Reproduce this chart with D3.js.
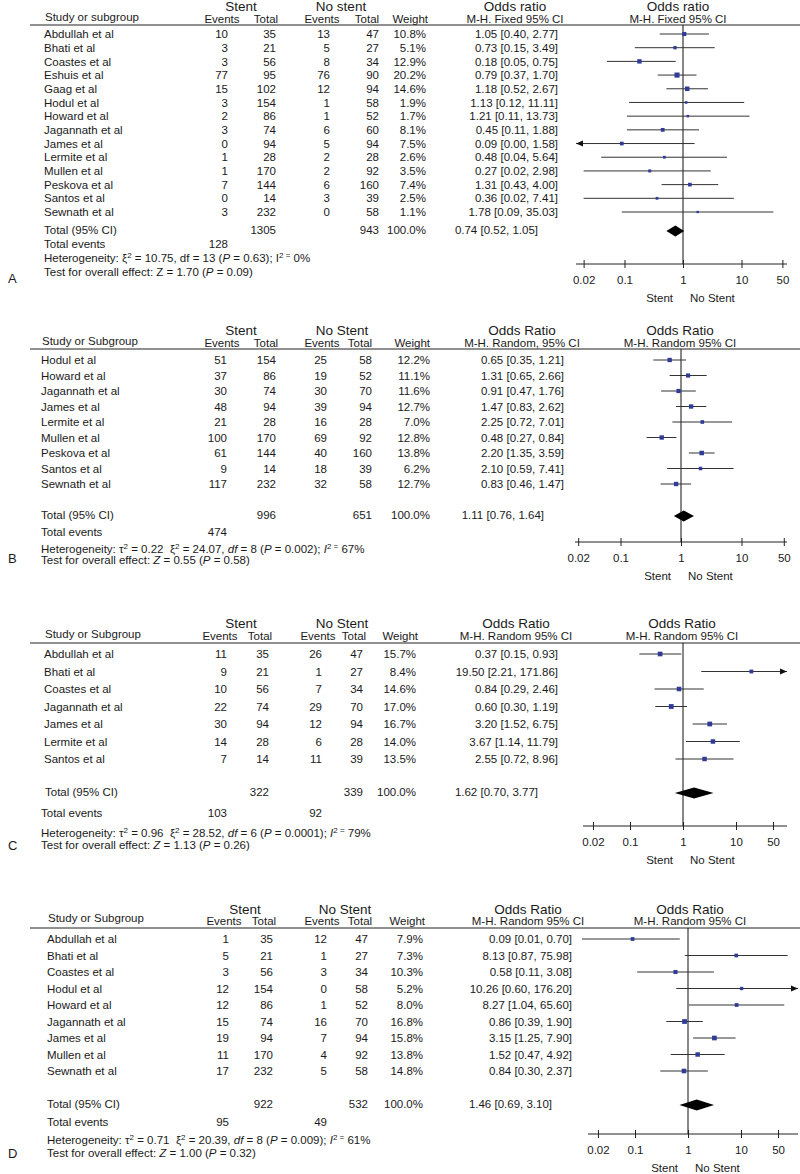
<!DOCTYPE html>
<html><head><meta charset="utf-8">
<script src="https://cdn.jsdelivr.net/npm/d3@7"></script>
<style>
body{margin:0;background:#fff}
svg{display:block}
text{font-family:"Liberation Sans",Arial,Helvetica,sans-serif;fill:#1a1a1a;white-space:pre}
</style>
</head><body>
<svg id="chart" width="800" height="1174"></svg>
<script>
// ---------- Panel A data ----------
const aStudies = ["Abdullah et al","Bhati et al","Coastes et al","Eshuis et al","Gaag et al","Hodul et al","Howard et al","Jagannath et al","James et al","Lermite et al","Mullen et al","Peskova et al","Santos et al","Sewnath et al"];
const aStentEvents = [10,3,3,77,15,3,2,3,0,1,1,7,0,3];
const aStentTotal  = [35,21,56,95,102,154,86,74,94,28,170,144,14,232];
const aNoEvents    = [13,5,8,76,12,1,1,6,5,2,2,6,3,0];
const aNoTotal     = [47,27,34,90,94,58,52,60,94,28,92,160,39,58];
const aWeight      = [10.8,5.1,12.9,20.2,14.6,1.9,1.7,8.1,7.5,2.6,3.5,7.4,2.5,1.1];
const aOR          = [1.05,0.73,0.18,0.79,1.18,1.13,1.21,0.45,0.09,0.48,0.27,1.31,0.36,1.78];
const aLo          = [0.40,0.15,0.05,0.37,0.52,0.12,0.11,0.11,0.00,0.04,0.02,0.43,0.02,0.09];
const aHi          = [2.77,3.49,0.75,1.70,2.67,11.11,13.73,1.88,1.58,5.64,2.98,4.00,7.41,35.03];
const aTotal = {stentTotal:1305, noTotal:943, weight:100.0, or:0.74, lo:0.52, hi:1.05, stentEvents:128, noEvents:null};

// ---------- Panel B data ----------
const bStudies = ["Hodul et al","Howard et al","Jagannath et al","James et al","Lermite et al","Mullen et al","Peskova et al","Santos et al","Sewnath et al"];
const bStentEvents = [51,37,30,48,21,100,61,9,117];
const bStentTotal  = [154,86,74,94,28,170,144,14,232];
const bNoEvents    = [25,19,30,39,16,69,40,18,32];
const bNoTotal     = [58,52,70,94,28,92,160,39,58];
const bWeight      = [12.2,11.1,11.6,12.7,7.0,12.8,13.8,6.2,12.7];
const bOR          = [0.65,1.31,0.91,1.47,2.25,0.48,2.20,2.10,0.83];
const bLo          = [0.35,0.65,0.47,0.83,0.72,0.27,1.35,0.59,0.46];
const bHi          = [1.21,2.66,1.76,2.62,7.01,0.84,3.59,7.41,1.47];
const bTotal = {stentTotal:996, noTotal:651, weight:100.0, or:1.11, lo:0.76, hi:1.64, stentEvents:474, noEvents:null};

// ---------- Panel C data ----------
const cStudies = ["Abdullah et al","Bhati et al","Coastes et al","Jagannath et al","James et al","Lermite et al","Santos et al"];
const cStentEvents = [11,9,10,22,30,14,7];
const cStentTotal  = [35,21,56,74,94,28,14];
const cNoEvents    = [26,1,7,29,12,6,11];
const cNoTotal     = [47,27,34,70,94,28,39];
const cWeight      = [15.7,8.4,14.6,17.0,16.7,14.0,13.5];
const cOR          = [0.37,19.50,0.84,0.60,3.20,3.67,2.55];
const cLo          = [0.15,2.21,0.29,0.30,1.52,1.14,0.72];
const cHi          = [0.93,171.86,2.46,1.19,6.75,11.79,8.96];
const cTotal = {stentTotal:322, noTotal:339, weight:100.0, or:1.62, lo:0.70, hi:3.77, stentEvents:103, noEvents:92};

// ---------- Panel D data ----------
const dStudies = ["Abdullah et al","Bhati et al","Coastes et al","Hodul et al","Howard et al","Jagannath et al","James et al","Mullen et al","Sewnath et al"];
const dStentEvents = [1,5,3,12,12,15,19,11,17];
const dStentTotal  = [35,21,56,154,86,74,94,170,232];
const dNoEvents    = [12,1,3,0,1,16,7,4,5];
const dNoTotal     = [47,27,34,58,52,70,94,92,58];
const dWeight      = [7.9,7.3,10.3,5.2,8.0,16.8,15.8,13.8,14.8];
const dOR          = [0.09,8.13,0.58,10.26,8.27,0.86,3.15,1.52,0.84];
const dLo          = [0.01,0.87,0.11,0.60,1.04,0.39,1.25,0.47,0.30];
const dHi          = [0.70,75.98,3.08,176.20,65.60,1.90,7.90,4.92,2.37];
const dTotal = {stentTotal:922, noTotal:532, weight:100.0, or:1.46, lo:0.69, hi:3.10, stentEvents:95, noEvents:49};

// ---------- Axis ticks ----------
const tickValues = [0.02, 0.1, 1, 10, 50];
const tickLabels = ["0.02", "0.1", "1", "10", "50"];

// ---------- Text ----------
const hetA = "Heterogeneity: ξ^2^ = 10.75, df = 13 (_P_ = 0.63); I^2 =^ 0%";
const testA = "Test for overall effect: Z = 1.70 (_P_ = 0.09)";
const hetB = "Heterogeneity: τ^2^ = 0.22  ξ^2^ = 24.07, _df_ = 8 (_P_ = 0.002); _I_^2 =^ 67%";
const testB = "Test for overall effect: _Z_ = 0.55 (_P_ = 0.58)";
const hetC = "Heterogeneity: τ^2^ = 0.96  ξ^2^ = 28.52, _df_ = 6 (_P_ = 0.0001); _I_^2 =^ 79%";
const testC = "Test for overall effect: _Z_ = 1.13 (_P_ = 0.26)";
const hetD = "Heterogeneity: τ^2^ = 0.71  ξ^2^ = 20.39, _df_ = 8 (_P_ = 0.009); _I_^2 =^ 61%";
const testD = "Test for overall effect: _Z_ = 1.00 (_P_ = 0.32)";

const panels = [
  {letter:"A", studies:aStudies, se:aStentEvents, st:aStentTotal, ne:aNoEvents, nt:aNoTotal, w:aWeight, or:aOR, lo:aLo, hi:aHi, tot:aTotal, het:hetA, test:testA,
   h:{study:"Study or subgroup", stent:"Stent", no:"No stent", or:"Odds ratio", sub1:"M-H. Fixed 95% CI", sub2:"M-H. Fixed 95% CI"},
   L:{hdrY:6, subY:19, studyY:17, lineY:25, row0:34, rowN:212, totalY:230, eventsY:244, hetY:258, testY:272, letterY:278,
      nameX:44, totX:44, evX:44, hetX:44, sE:228, sT:276, nE:330, nT:379, w:426, orR:558,
      cStent:241, cNo:341, cEv1:222, cTo1:266, cEv2:322, cTo2:367, wR:428, cOr1:515, cOr2:678,
      x1:683, dec:58.5, axisY:264, axL:576, axR:787, clipLo:0.015, clipHi:60}},
  {letter:"B", studies:bStudies, se:bStentEvents, st:bStentTotal, ne:bNoEvents, nt:bNoTotal, w:bWeight, or:bOR, lo:bLo, hi:bHi, tot:bTotal, het:hetB, test:testB,
   h:{study:"Study or Subgroup", stent:"Stent", no:"No Stent", or:"Odds Ratio", sub1:"M-H. Random, 95% CI", sub2:"M-H. Random 95% CI"},
   L:{hdrY:330, subY:343, studyY:341, lineY:349, row0:360, rowN:484, totalY:515, eventsY:532, hetY:549, testY:560, letterY:558,
      nameX:41, totX:41, evX:41, hetX:41, sE:227, sT:276, nE:327, nT:372, w:430, orR:564,
      cStent:241, cNo:342, cEv1:222, cTo1:266, cEv2:322, cTo2:360, wR:430, cOr1:522, cOr2:680,
      x1:681, dec:60.5, axisY:542, axL:575, axR:787, clipLo:0.015, clipHi:60}},
  {letter:"C", studies:cStudies, se:cStentEvents, st:cStentTotal, ne:cNoEvents, nt:cNoTotal, w:cWeight, or:cOR, lo:cLo, hi:cHi, tot:cTotal, het:hetC, test:testC,
   h:{study:"Study or Subgroup", stent:"Stent", no:"No Stent", or:"Odds Ratio", sub1:"M-H. Random 95% CI", sub2:"M-H. Random 95% CI"},
   L:{hdrY:623, subY:636, studyY:634, lineY:643, row0:654, rowN:759, totalY:792, eventsY:813, hetY:833, testY:845, letterY:845,
      nameX:44, totX:45, evX:41, hetX:41, sE:227, sT:269, nE:322, nT:363, w:416, orR:558,
      cStent:241, cNo:342, cEv1:220, cTo1:260, cEv2:318, cTo2:354, wR:418, cOr1:516, cOr2:682,
      x1:683, dec:53, axisY:826, axL:583, axR:787, clipLo:0.015, clipHi:60}},
  {letter:"D", studies:dStudies, se:dStentEvents, st:dStentTotal, ne:dNoEvents, nt:dNoTotal, w:dWeight, or:dOR, lo:dLo, hi:dHi, tot:dTotal, het:hetD, test:testD,
   h:{study:"Study or Subgroup", stent:"Stent", no:"No Stent", or:"Odds Ratio", sub1:"M-H. Random 95% CI", sub2:"M-H. Random 95% CI"},
   L:{hdrY:909, subY:921, studyY:918, lineY:928, row0:939, rowN:1071, totalY:1104, eventsY:1122, hetY:1140, testY:1153, letterY:1153,
      nameX:47, totX:47, evX:47, hetX:47, sE:229, sT:273, nE:327, nT:368, w:423, orR:572,
      cStent:245, cNo:345, cEv1:224, cTo1:264, cEv2:322, cTo2:360, wR:425, cOr1:528, cOr2:690,
      x1:688, dec:53, axisY:1134, axL:588, axR:798, clipLo:0.008, clipHi:100}}
];

const svg = d3.select("#chart");
const FS = 11.5, HS = 13.5;
const SQ = "#2f3b97", LINE = "#333";

function txt(g, x, y, s, anchor, size) {
  size = size || FS;
  return g.append("text").attr("x", x).attr("y", y + size * 0.36)
    .attr("text-anchor", anchor || "start").attr("font-size", size).text(s);
}
function rich(g, x, y, s) {
  const t = g.append("text").attr("x", x).attr("y", y + FS * 0.36).attr("font-size", FS);
  const re = /(\^[^^]*\^|_[^_]*_|[^^_]+)/g;
  let m, pending = 0;
  while ((m = re.exec(s)) !== null) {
    const seg = m[0];
    let ts;
    if (seg[0] === "^") {
      ts = t.append("tspan").attr("font-size", 8).attr("dy", pending - 4).text(seg.slice(1, -1));
      pending = 4;
      continue;
    } else if (seg[0] === "_") {
      ts = t.append("tspan").attr("font-style", "italic").text(seg.slice(1, -1));
    } else {
      ts = t.append("tspan").text(seg);
    }
    if (pending) { ts.attr("dy", pending); pending = 0; }
  }
}
const f2 = d => d.toFixed(2);
const ciText = (o, l, h) => `${f2(o)} [${f2(l)}, ${f2(h)}]`;

panels.forEach(p => {
  const L = p.L, g = svg.append("g");
  const x = d3.scaleLog().domain([1, 10]).range([L.x1, L.x1 + L.dec]);
  const y = d3.scaleLinear().domain([0, p.studies.length - 1]).range([L.row0, L.rowN]);

  // headers
  txt(g, L.cStent, L.hdrY, p.h.stent, "middle", HS);
  txt(g, L.cNo, L.hdrY, p.h.no, "middle", HS);
  txt(g, L.cOr1, L.hdrY, p.h.or, "middle", HS);
  txt(g, L.cOr2, L.hdrY, p.h.or, "middle", HS);
  txt(g, L.nameX + 1, L.studyY, p.h.study, "start");
  txt(g, L.cEv1, L.subY, "Events", "middle");
  txt(g, L.cTo1, L.subY, "Total", "middle");
  txt(g, L.cEv2, L.subY, "Events", "middle");
  txt(g, L.cTo2, L.subY, "Total", "middle");
  txt(g, L.wR, L.subY, "Weight", "end");
  txt(g, L.cOr1, L.subY, p.h.sub1, "middle");
  txt(g, L.cOr2, L.subY, p.h.sub2, "middle");
  g.append("line").attr("x1", 30).attr("x2", 800).attr("y1", L.lineY).attr("y2", L.lineY)
    .attr("stroke", "#222").attr("stroke-width", 1.2);

  // vertical reference line at OR = 1
  g.append("line").attr("x1", x(1)).attr("x2", x(1)).attr("y1", L.lineY).attr("y2", L.axisY)
    .attr("stroke", "#111").attr("stroke-width", 1);

  // rows
  p.studies.forEach((name, i) => {
    const yy = y(i);
    txt(g, L.nameX, yy, name, "start");
    txt(g, L.sE, yy, String(p.se[i]), "end");
    txt(g, L.sT, yy, String(p.st[i]), "end");
    txt(g, L.nE, yy, String(p.ne[i]), "end");
    txt(g, L.nT, yy, String(p.nt[i]), "end");
    txt(g, L.w, yy, p.w[i].toFixed(1) + "%", "end");
    txt(g, L.orR, yy, ciText(p.or[i], p.lo[i], p.hi[i]), "end");

    const loC = p.lo[i] < L.clipLo, hiC = p.hi[i] > L.clipHi;
    const xl = loC ? L.axL : x(p.lo[i]);
    const xr = hiC ? L.axR : x(p.hi[i]);
    g.append("line").attr("x1", xl).attr("x2", xr).attr("y1", yy).attr("y2", yy)
      .attr("stroke", LINE).attr("stroke-width", 1);
    if (loC) g.append("path").attr("d", `M${xl},${yy}l7,-3l0,6z`).attr("fill", "#111");
    if (hiC) g.append("path").attr("d", `M${xr},${yy}l-7,-3l0,6z`).attr("fill", "#111");
    const s = 1.5 + Math.sqrt(p.w[i]) * 0.8;
    g.append("rect").attr("x", x(p.or[i]) - s / 2).attr("y", yy - s / 2)
      .attr("width", s).attr("height", s).attr("fill", SQ);
  });

  // totals
  const T = p.tot;
  txt(g, L.totX, L.totalY, "Total (95% CI)", "start");
  txt(g, L.sT, L.totalY, String(T.stentTotal), "end");
  txt(g, L.nT, L.totalY, String(T.noTotal), "end");
  txt(g, L.w, L.totalY, T.weight.toFixed(1) + "%", "end");
  txt(g, L.orR - 20, L.totalY, ciText(T.or, T.lo, T.hi), "end");
  txt(g, L.evX, L.eventsY, "Total events", "start");
  txt(g, L.sE, L.eventsY, String(T.stentEvents), "end");
  if (T.noEvents !== null) txt(g, L.nE, L.eventsY, String(T.noEvents), "end");
  rich(g, L.hetX, L.hetY, p.het);
  rich(g, L.hetX, L.testY, p.test);
  txt(g, 8, L.letterY, p.letter, "start", 13);

  // diamond
  const dy = L.totalY + 1;
  g.append("path").attr("d",
    `M${x(T.lo)},${dy}L${x(T.or)},${dy - 5.5}L${x(T.hi)},${dy}L${x(T.or)},${dy + 5.5}Z`)
    .attr("fill", "#000");

  // axis
  const ax = g.append("g").attr("transform", `translate(0,${L.axisY})`)
    .call(d3.axisBottom(x).tickValues(tickValues).tickFormat((d, i) => tickLabels[i]));
  ax.select(".domain").remove();
  ax.selectAll(".tick line").attr("y1", -4).attr("y2", 4).attr("stroke", "#222");
  ax.selectAll(".tick text").attr("y", 12).attr("font-size", FS)
    .attr("font-family", '"Liberation Sans",Arial,sans-serif').attr("fill", "#1a1a1a");
  ax.append("line").attr("x1", L.axL).attr("x2", L.axR).attr("y1", 0).attr("y2", 0)
    .attr("stroke", "#222").attr("stroke-width", 1);
  txt(g, x(1) - 10, L.axisY + 34, "Stent", "end");
  txt(g, x(1) + 7, L.axisY + 34, "No Stent", "start");
});
</script>
</body></html>
